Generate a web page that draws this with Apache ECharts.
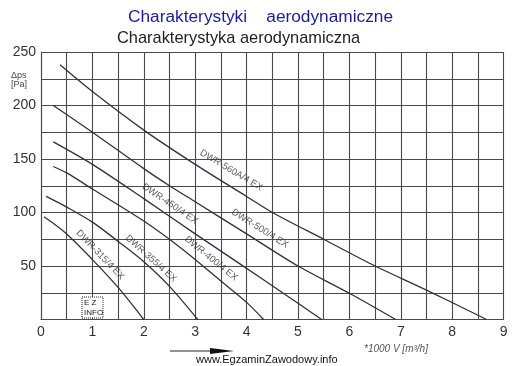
<!DOCTYPE html>
<html><head><meta charset="utf-8">
<script src="https://cdn.jsdelivr.net/npm/echarts@6/dist/echarts.min.js"></script>
<style>html,body{margin:0;padding:0;background:#fff}#c{width:518px;height:366px}</style>
</head><body><div id="c"></div>
<script>
// ---- data ----
var xTicks = [0,1,2,3,4,5,6,7,8,9];
var yTicks = [50,100,150,200,250];
var seriesNames = ['DWR-560A/4 EX','DWR-500/4 EX','DWR-450/4 EX','DWR-400/4 EX','DWR-355/4 EX','DWR-315/4 EX'];
var dwr560 = [[0.37,238],[1,213],[2,177],[3,145],[4,115],[4.5,100],[5.5,75],[6.5,50],[7.5,27.5],[8.67,0]];
var dwr500 = [[0.24,200],[1,175],[2,141],[2.5,125],[3,110],[4,80],[5,50],[6,24.5],[6.9,0]];
var dwr450 = [[0.24,166],[1,145],[2,113],[3,80],[3.87,52],[4.7,25],[5.46,0]];
var dwr400 = [[0.24,143],[0.5,137],[1,122],[2,92],[2.77,65],[3.5,36],[4,16],[4.33,0]];
var dwr355 = [[0.1,115],[0.5,105],[1,91],[1.5,73],[2,54],[2.5,31],[3.05,0]];
var dwr315 = [[0.06,96],[0.5,80],[1,56],[1.5,30],[2,0]];
// curve label anchors (data coords) and rotation
var labelAnchors = [[3.70,139.5],[4.26,85],[2.51,108],[3.31,57],[2.14,57],[1.15,60.5]];
var labelAngles = [-31,-32,-34,-39,-42,-46];

var curves = [dwr560,dwr500,dwr450,dwr400,dwr355,dwr315];
var chart = echarts.init(document.getElementById('c'));
var curveColor = '#2f2f47';
var gridColor = '#4a4a4a';
var series = curves.map(function(d,i){
  return {type:'line', name:seriesNames[i], data:d, smooth:0.3, symbol:'none',
    lineStyle:{color:curveColor,width:1.3}, silent:true, z:3};
});
series.push({
  type:'scatter', symbolSize:0, silent:true, z:4,
  data: labelAnchors.map(function(p,i){
    return {value:p, label:{show:true, position:'inside', formatter:seriesNames[i], rotate:labelAngles[i],
      fontFamily:'Arial, Liberation Sans', fontSize:9.5, color:'#333'}};
  })
});
var gridLine = {show:true, lineStyle:{color:gridColor,width:1.1}};
chart.setOption({
  animation:false,
  backgroundColor:'#fff',
  grid:{left:41, top:52, right:14.4, bottom:46.5, containLabel:false},
  xAxis:{type:'value', min:0, max:9, interval:1,
    axisLine:{show:true, lineStyle:{color:gridColor,width:1.1}}, axisTick:{show:false},
    splitLine:gridLine, minorTick:{show:false, splitNumber:2}, minorSplitLine:gridLine,
    axisLabel:{fontFamily:'Arial, Liberation Sans', fontSize:14, color:'#333', margin:6,
      formatter:function(v){return xTicks.indexOf(v)>=0 ? String(v) : '';}}},
  yAxis:{type:'value', min:0, max:250, interval:50,
    axisLine:{show:true, lineStyle:{color:gridColor,width:1.1}}, axisTick:{show:false},
    splitLine:gridLine, minorTick:{show:false, splitNumber:2}, minorSplitLine:gridLine,
    axisLabel:{fontFamily:'Arial, Liberation Sans', fontSize:14, color:'#333', margin:5,
      formatter:function(v){return yTicks.indexOf(v)>=0 ? String(v) : '';}}},
  series:series,
  graphic:[
    {type:'text', x:128, y:9, style:{text:'Charakterystyki    aerodynamiczne', font:'17.3px Arial, "Liberation Sans"', fill:'#1c1c99'}},
    {type:'text', x:117, y:30, style:{text:'Charakterystyka aerodynamiczna', font:'16.4px Arial, "Liberation Sans"', fill:'#222'}},
    {type:'text', x:11, y:71, style:{text:'Δps\n[Pa]', font:'9px Arial, "Liberation Sans"', fill:'#444', lineHeight:9}},
    {type:'polyline', shape:{points:[[170,351],[222,351]]}, style:{stroke:'#222',lineWidth:1}},
    {type:'polygon', shape:{points:[[210,348],[234,351],[210,354]]}, style:{fill:'#111'}},
    {type:'text', x:364, y:344, style:{text:'*1000 V [m³/h]', font:'italic 10px Arial, "Liberation Sans"', fill:'#555'}},
    {type:'text', x:196, y:354, style:{text:'www.EgzaminZawodowy.info', font:'11px Arial, "Liberation Sans"', fill:'#111'}},
    {type:'rect', shape:{x:82,y:297,width:21,height:21}, style:{fill:'#fff',stroke:'#222',lineWidth:1,lineDash:[1,1]}, z:5},
    {type:'text', x:84, y:298, style:{text:'E Z\nINFO', font:'8px Arial, "Liberation Sans"', fill:'#222', lineHeight:10}, z:6}
  ]
});
</script></body></html>
